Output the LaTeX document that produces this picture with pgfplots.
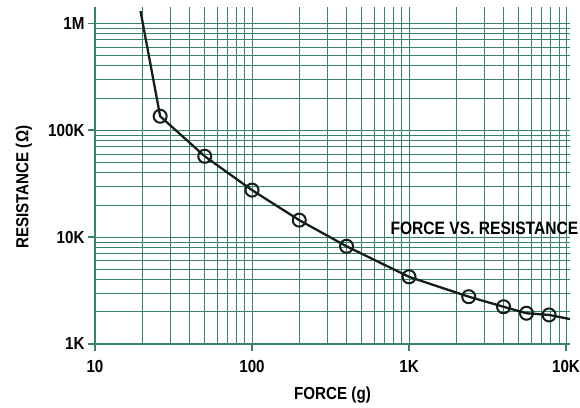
\documentclass[border=0pt]{standalone}
\usepackage{fontspec}
\setmainfont{Liberation Sans}[FakeStretch=0.87]
\usepackage{pgfplots}
\pgfplotsset{compat=1.18}
\definecolor{gridgreen}{RGB}{55,128,105}
\definecolor{curve}{RGB}{20,30,25}
\newcommand{\lblfont}{\fontsize{17.5}{17.5}\selectfont\bfseries}
\begin{document}
\begin{tikzpicture}
\begin{axis}[
  scale only axis,
  width=475bp, height=337bp,
  xmode=log, ymode=log,
  xmin=10, xmax=10600,
  ymin=1000, ymax=1.42e6,
  axis x line=bottom, axis y line=left,
  axis line style={-, gridgreen, line width=2bp},
  grid=both,
  major grid style={gridgreen, line width=1bp},
  minor grid style={gridgreen, line width=0.7bp},
  xtick={10,100,1000,10000},
  xticklabels={10,100,1K,10K},
  ytick={1000,10000,100000,1000000},
  yticklabels={1K,10K,100K,1M},
  tick align=outside,
  major tick length=7bp,
  minor tick length=0pt,
  tick style={gridgreen, line width=1.5bp},
  /pgf/number format/assume math mode=true,
  ticklabel style={font=\lblfont, text=black},
  xticklabel style={yshift=-6bp},
  xlabel={FORCE (g)},
  ylabel={RESISTANCE (Ω)},
  xlabel style={font=\lblfont, at={(axis description cs:0.5,-0.152)}, anchor=center},
  ylabel style={font=\lblfont, at={(axis description cs:-0.15,0.465)}, anchor=center},
  clip mode=individual,
]
\addplot[curve, line width=2.3bp, no markers] coordinates {
  (19.5,1.3e6) (26,1.35e5) (50,5.7e4) (100,2.75e4) (200,1.44e4)
  (400,8.2e3) (1000,4.25e3) (2400,2.77e3) (4000,2.23e3) (5600,1.94e3)
  (7800,1.87e3) (10600,1.71e3)
};
\addplot[only marks, mark=o, mark size=6.5bp, mark options={draw=curve, fill=white, line width=2bp}] coordinates {
  (26,1.35e5) (50,5.7e4) (100,2.75e4) (200,1.44e4)
  (400,8.2e3) (1000,4.25e3) (2400,2.77e3) (4000,2.23e3) (5600,1.94e3)
  (7800,1.87e3)
};
\node[anchor=west, font=\fontsize{18}{18}\selectfont\bfseries, inner sep=0pt] at (axis cs:760,12000) {FORCE VS. RESISTANCE};
\end{axis}
\pgfresetboundingbox
\path[use as bounding box] (current axis.south west) ++(-95bp,-64bp) rectangle ++(580bp,408bp);
\end{tikzpicture}
\end{document}
